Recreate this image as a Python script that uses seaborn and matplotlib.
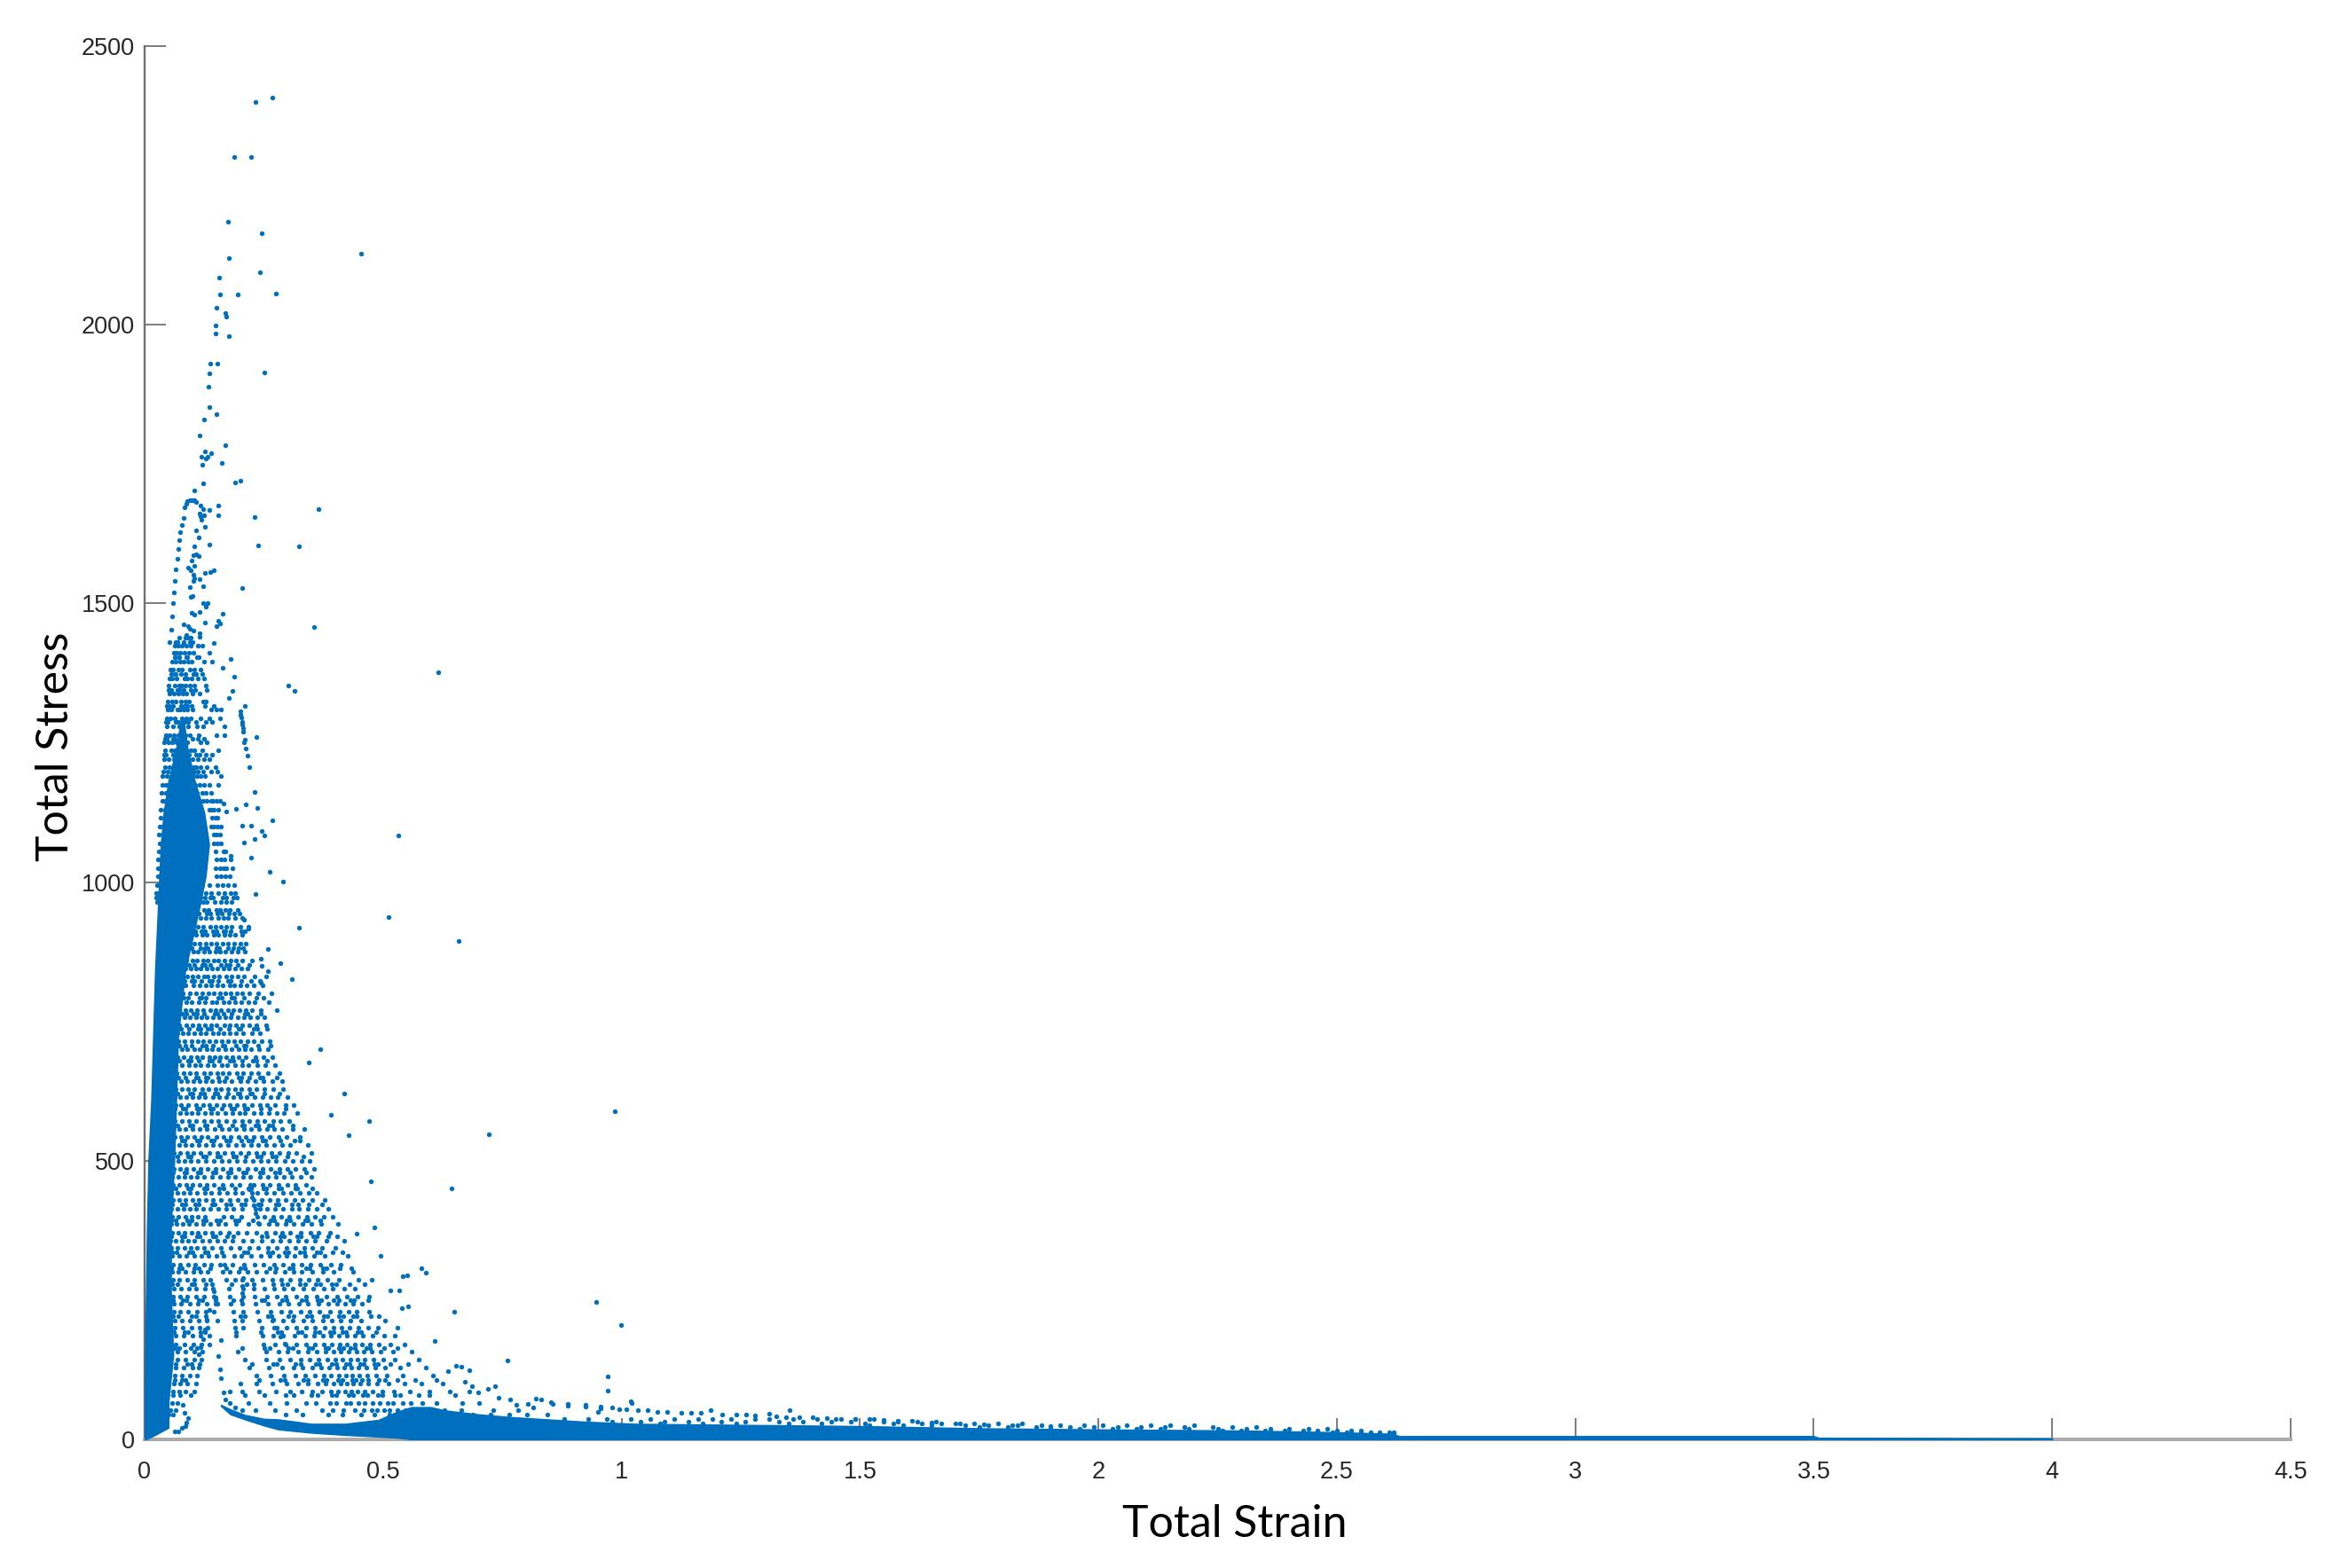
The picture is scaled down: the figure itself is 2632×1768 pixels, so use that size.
"""
Total stress against total strain scatter. Values are estimated from the picture:
isolated points one by one, the speckled cloud row by row, solid areas as outlines.
"""

import itertools

import matplotlib
matplotlib.use("Agg")
import matplotlib.pyplot as plt
import pandas as pd
import seaborn as sns

# ─── Data ────────────────────────────────────────────────────────────────────

x_ticks = [0, 0.5, 1, 1.5, 2, 2.5, 3, 3.5, 4, 4.5]
x_tick_labels = ["0", "0.5", "1", "1.5", "2", "2.5", "3", "3.5", "4", "4.5"]
y_ticks = [0, 500, 1000, 1500, 2000, 2500]

# isolated points above the cloud
peak_points = [
    (.267, 2407), (.232, 2399), (.187, 2301), (.223, 2301), (.174, 2185), (.246, 2164), (.453, 2128),
    (.177, 2120), (.241, 2094), (.157, 2084), (.158, 2055), (.195, 2055), (.275, 2056), (.150, 2030),
    (.169, 2021), (.172, 2014), (.148, 1999), (.149, 1985), (.176, 1979), (.138, 1931), (.152, 1930),
    (.136, 1913), (.251, 1915), (.134, 1889), (.135, 1852), (.151, 1840), (.125, 1830), (.116, 1801),
    (.170, 1784), (.127, 1772), (.119, 1763), (.140, 1769), (.133, 1763), (.129, 1760), (.121, 1749),
    (.161, 1752), (.122, 1716), (.189, 1717), (.201, 1720), (.104, 1702),
    # arc round the top of the core
    (.099, 1686), (.095, 1686), (.090, 1683), (.087, 1679), (.084, 1673), (.081, 1653), (.078, 1640),
    (.074, 1628), (.073, 1614), (.070, 1597), (.068, 1580), (.065, 1561), (.063, 1541), (.062, 1520),
    (.060, 1500), (.057, 1477), (.056, 1453), (.053, 1430), (.107, 1682), (.105, 1685), (.102, 1686),
    # inside and right of the arc
    (.118, 1676), (.123, 1670), (.136, 1667), (.154, 1676), (.154, 1658), (.117, 1656), (.124, 1658),
    (.115, 1662), (.119, 1650), (.231, 1655), (.364, 1670), (.127, 1637), (.107, 1631), (.114, 1619),
    (.105, 1603), (.135, 1606), (.239, 1604), (.324, 1603), (.103, 1586), (.113, 1585), (.108, 1588),
    (.099, 1577), (.092, 1565), (.105, 1568), (.096, 1560), (.146, 1560), (.138, 1556), (.126, 1554),
    (.102, 1551), (.103, 1540), (.105, 1545), (.115, 1544), (.095, 1530), (.123, 1531), (.204, 1528),
    (.096, 1511), (.100, 1513), (.123, 1500), (.133, 1501), (.128, 1495), (.099, 1483), (.105, 1480),
    (.115, 1485), (.164, 1481), (.155, 1469), (.150, 1460), (.158, 1464), (.126, 1465), (.355, 1457),
    (.081, 1462), (.092, 1460), (.094, 1455), (.103, 1452), (.115, 1446), (.115, 1440), (.088, 1444),
    (.146, 1429), (.615, 1377), (.181, 1401), (.164, 1385), (.187, 1369), (.301, 1353), (.315, 1343),
    (.185, 1343), (.176, 1330), (.211, 1316), (.200, 1307), (.201, 1300), (.202, 1295), (.205, 1287),
    (.204, 1282), (.207, 1276), (.206, 1270), (.210, 1256), (.209, 1250), (.212, 1240), (.216, 1227),
    (.220, 1206), (.234, 1261), (.231, 1162), (.213, 1139), (.236, 1133), (.192, 1132), (.172, 1127),
    (.166, 1141), (.267, 1111), (.205, 1101), (.223, 1101), (.246, 1092), (.251, 1084), (.532, 1083),
    (.231, 1077), (.208, 1071), (.223, 1044), (.181, 1047), (.262, 1019), (.290, 1001), (.233, 978),
    (.512, 938), (.324, 918), (.218, 917), (.208, 933), (.659, 895), (.258, 880), (.285, 855),
    (.243, 862), (.245, 849), (.259, 841), (.308, 826), (.244, 819),
]

# isolated points to the right of the cloud
outer_points = [
    (.644, 451), (.722, 548), (.986, 589), (.946, 247), (.999, 205), (.971, 113), (.971, 87), (.650, 229),
    (.419, 621), (.369, 700), (.344, 677), (.390, 582), (.471, 571), (.428, 546), (.474, 463), (.482, 380),
    (.445, 369), (.494, 329), (.581, 307), (.590, 299), (.608, 177), (.542, 293), (.550, 294), (.515, 268),
    (.533, 267), (.540, 236), (.553, 238), (.653, 132), (.664, 131), (.680, 124), (.636, 122), (.734, 95),
    (.767, 72), (.831, 72), (.803, 64), (.856, 64), (.888, 61), (.925, 59), (.957, 55), (1.021, 65),
    (.760, 141), (.720, 90), (.700, 84), (.742, 75), (.780, 62), (.815, 58), (.687, 95), (.671, 103),
    (.820, 73), (.852, 67), (.888, 64), (.924, 62), (.956, 59), (.950, 49), (.981, 57), (1.019, 68),
    (.995, 54), (1.010, 54), (1.035, 53), (1.055, 52), (1.075, 50), (1.095, 49), (1.125, 48), (1.145, 47),
    (1.167, 47), (1.187, 53), (1.211, 45), (1.240, 44), (1.262, 44), (1.280, 43), (1.309, 46), (1.325, 42),
    (1.353, 53), (1.345, 40), (1.372, 39), (1.400, 39), (1.430, 38), (1.460, 37), (1.490, 37), (1.520, 36),
    (1.550, 35), (1.580, 34), (1.610, 33), (1.650, 30), (1.700, 29), (1.760, 27), (1.820, 26), (1.900, 24),
    # thin streaks and the arc over the white gap
    (.220, 449), (.225, 435), (.229, 420), (.233, 405), (.238, 388), (.270, 215), (.278, 200), (.285, 185),
    (.293, 172), (.206, 290), (.205, 275), (.204, 262), (.203, 250), (.145, 266), (.149, 255), (.153, 243),
    (.135, 232), (.131, 215), (.127, 198), (.122, 180), (.117, 165), (.113, 152), (.160, 179), (.155, 150),
    (.158, 125), (.160, 110), (.165, 85), (.170, 72), (.178, 65), (.190, 57), (.064, 15), (.070, 14),
    (.078, 20), (.085, 24), (.092, 38), (.088, 30), (.083, 48), (.080, 62),
]

# speckled cloud, one list of strains for each stress level
cloud_stress = [
    1438, 1424, 1411, 1396, 1381, 1365, 1352, 1338, 1324, 1309, 1294, 1280, 1264, 1250, 1236, 1221,
    1206, 1190, 1175, 1160, 1145, 1130, 1115, 1100, 1085, 1070, 1055, 1040, 1025, 1010, 995, 980,
    965, 950, 935, 920, 905, 890, 875, 860, 845, 830, 815, 800, 785, 770, 757, 743, 729, 714, 700,
    686, 671, 657, 643, 629, 614, 600, 586, 571, 557, 543, 529, 514, 500, 486, 471, 457, 443, 429,
    414, 400, 386, 371, 357, 343, 329, 314, 300, 286, 271, 257, 243, 229, 214, 200, 186, 171, 157,
    143, 129, 114, 100, 86,
]
cloud_strain = [
    [.072, .085, .091, .097],
    [.063, .071, .078, .088, .096, .111, .121],
    [.061, .067, .075, .084, .093, .103, .135],
    [.057, .066, .074, .082, .091, .099, .125, .141],
    [.054, .060, .071, .079, .095, .105, .117],
    [.052, .058, .067, .083, .090, .099, .112, .124],
    [.050, .063, .072, .079, .086, .094, .104, .128],
    [.053, .061, .070, .080, .088, .100, .116],
    [.049, .057, .065, .077, .085, .093, .122, .128],
    [.048, .056, .068, .074, .082, .090, .101, .140, .150, .160],
    [.046, .054, .063, .079, .087, .096, .118, .135, .158],
    [.047, .059, .072, .080, .091, .110, .123, .168],
    [.044, .052, .061, .070, .078, .086, .094, .113, .150, .168],
    [.041, .050, .058, .067, .074, .082, .090, .118, .130],
    [.043, .056, .063, .070, .080, .087, .096, .105, .120, .155],
    [.040, .050, .062, .083, .091, .100, .112, .125, .135],
    [.042, .053, .095, .103, .108, .118, .130, .148],
    [.038, .046, .102, .110, .118, .127, .160],
    [.037, .045, .106, .115, .124, .135, .155],
    [.036, .044, .110, .120, .128, .140],
    [.038, .043, .115, .122, .130, .140, .143, .150, .158],
    [.034, .042, .135, .140, .146, .155],
    [.033, .040, .142, .148, .153],
    [.032, .038, .140, .145, .152, .160],
    [.030, .037, .146, .150, .158],
    [.031, .036, .145, .153, .160],
    [.029, .035, .148, .165, .170],
    [.028, .034, .150, .160, .168, .180],
    [.027, .033, .148, .158, .165, .172, .185],
    [.028, .032, .150, .160, .170, .178],
    [.026, .031, .120, .135, .152, .163, .175, .187],
    [.025, .030, .118, .128, .140, .155, .168, .180, .190],
    [.026, .115, .122, .130, .147, .160, .172, .182],
    [.110, .125, .134, .150, .158, .170, .178, .195],
    [.105, .118, .128, .140, .155, .165, .175, .190, .205],
    [.100, .112, .122, .137, .148, .160, .172, .183, .200, .218],
    [.098, .108, .120, .130, .145, .155, .168, .178, .190, .205],
    [.095, .105, .115, .128, .140, .150, .163, .175, .188, .200, .212],
    [.090, .102, .112, .125, .135, .148, .158, .170, .182, .195, .210],
    [.088, .100, .110, .122, .132, .145, .155, .168, .180, .192, .205, .225],
    [.085, .096, .107, .118, .130, .142, .153, .165, .177, .190, .202, .215],
    [.078, .090, .100, .112, .124, .133, .146, .157, .171, .183, .196, .208, .230, .255],
    [.075, .086, .103, .116, .128, .139, .152, .163, .178, .187, .200, .214, .228, .247],
    [.080, .094, .108, .120, .134, .145, .158, .170, .180, .193, .205, .220, .238, .266],
    [.074, .088, .099, .113, .126, .141, .150, .165, .176, .190, .203, .217, .231, .260],
    [.072, .085, .097, .110, .122, .137, .148, .160, .174, .186, .199, .212, .226, .243, .278],
    [.070, .083, .095, .107, .119, .131, .144, .156, .170, .181, .195, .208, .222, .237, .252],
    [.073, .087, .101, .114, .127, .140, .151, .167, .178, .192, .204, .219, .234, .255],
    [.068, .080, .092, .105, .117, .129, .143, .155, .166, .179, .191, .206, .225, .241],
    [.071, .084, .098, .111, .123, .136, .149, .161, .175, .188, .201, .215, .229, .246, .262],
    [.066, .079, .090, .104, .116, .130, .142, .154, .169, .182, .197, .210, .224, .240, .259],
    [.069, .082, .096, .109, .121, .135, .147, .159, .172, .185, .198, .213, .232, .250, .268],
    [.065, .078, .093, .106, .118, .132, .146, .162, .173, .189, .205, .218, .236, .253, .274],
    [.067, .081, .094, .108, .125, .138, .152, .164, .177, .194, .207, .223, .239, .258, .283],
    [.064, .076, .089, .102, .115, .128, .141, .156, .168, .183, .200, .216, .233, .249, .267, .288],
    [.066, .079, .091, .105, .120, .134, .148, .160, .174, .190, .203, .219, .235, .252, .270, .290],
    [.063, .075, .088, .100, .113, .127, .143, .157, .171, .186, .201, .214, .230, .248, .265, .279, .300],
    [.065, .077, .092, .107, .122, .136, .150, .166, .179, .193, .209, .226, .242, .257, .273, .295, .312],
    [.061, .074, .087, .099, .112, .126, .140, .153, .169, .184, .199, .211, .228, .244, .260, .277, .292, .320],
    [.064, .078, .093, .108, .124, .139, .155, .172, .187, .204, .220, .236, .251, .269, .285, .303],
    [.060, .073, .086, .101, .116, .131, .147, .162, .176, .192, .208, .224, .240, .256, .272, .288, .310, .335],
    [.063, .076, .090, .105, .119, .133, .150, .165, .181, .197, .213, .229, .246, .263, .280, .297, .325],
    [.059, .072, .085, .098, .114, .128, .144, .159, .175, .191, .206, .223, .238, .254, .271, .289, .305, .342],
    [.062, .075, .089, .103, .118, .135, .152, .167, .184, .200, .217, .234, .250, .266, .283, .301, .318, .350],
    [.058, .071, .084, .097, .112, .129, .145, .161, .177, .194, .211, .227, .243, .259, .276, .293, .311, .330, .346],
    [.061, .074, .088, .102, .117, .132, .149, .164, .180, .198, .215, .232, .248, .264, .282, .299, .316, .335, .355],
    [.057, .070, .083, .096, .110, .125, .141, .158, .174, .190, .207, .222, .241, .258, .275, .292, .309, .327, .349],
    [.060, .073, .087, .101, .115, .130, .146, .163, .182, .199, .221, .229, .247, .263, .281, .300, .317, .338],
    [.056, .069, .082, .095, .109, .126, .140, .157, .173, .189, .205, .225, .237, .255, .272, .290, .307, .325, .345, .360],
    [.059, .072, .086, .100, .113, .128, .143, .160, .178, .196, .212, .228, .245, .262, .279, .296, .314, .332, .352, .378],
    [.056, .068, .081, .094, .108, .123, .138, .155, .171, .186, .204, .233, .242, .257, .274, .291, .308, .324, .342, .361, .385],
    [.058, .071, .085, .099, .112, .127, .165, .183, .202, .237, .252, .270, .287, .304, .322, .340, .358, .376, .395],
    [.055, .067, .080, .093, .107, .122, .137, .154, .170, .192, .218, .240, .261, .278, .295, .313, .331, .349, .370, .405],
    [.057, .070, .084, .098, .111, .126, .142, .158, .176, .195, .214, .234, .255, .273, .289, .306, .328, .347, .365, .388],
    [.054, .066, .079, .092, .105, .120, .136, .153, .168, .185, .206, .226, .246, .268, .285, .303, .321, .339, .357, .382, .418],
    [.056, .069, .083, .097, .110, .125, .141, .160, .180, .199, .219, .238, .259, .277, .298, .316, .334, .352, .372, .400],
    [.058, .072, .088, .104, .119, .134, .151, .165, .188, .203, .224, .243, .262, .280, .297, .315, .336, .355, .377, .426],
    [.060, .075, .091, .106, .124, .139, .159, .167, .184, .208, .231, .250, .271, .290, .310, .329, .348, .368, .390, .412],
    [.058, .070, .086, .102, .118, .133, .163, .178, .197, .216, .235, .254, .274, .294, .312, .330, .351, .373, .396, .437],
    [.059, .073, .089, .105, .122, .138, .172, .190, .205, .225, .247, .268, .286, .305, .326, .344, .363, .384, .408, .448, .476],
    [.061, .076, .093, .108, .126, .143, .176, .207, .228, .251, .272, .292, .311, .333, .354, .375, .394, .418, .440],
    [.060, .074, .090, .107, .125, .145, .178, .206, .231, .256, .277, .296, .319, .339, .360, .381, .403, .425, .447, .470],
    [.062, .077, .094, .112, .130, .148, .181, .205, .233, .259, .283, .301, .323, .342, .365, .386, .404, .421, .438, .455],
    [.061, .075, .092, .110, .128, .145, .186, .207, .236, .264, .287, .306, .327, .346, .367, .389, .410, .428, .445, .470],
    [.063, .078, .095, .113, .130, .152, .188, .204, .240, .268, .290, .310, .333, .352, .373, .392, .412, .432, .453, .505],
    [.064, .080, .098, .116, .133, .190, .206, .245, .272, .297, .318, .339, .358, .377, .396, .413, .430, .448, .469, .490, .530],
    [.065, .082, .100, .117, .135, .192, .248, .270, .291, .314, .336, .355, .374, .391, .407, .424, .440, .458, .478, .503, .525],
    [.066, .084, .103, .119, .136, .250, .273, .296, .318, .338, .357, .376, .392, .409, .425, .441, .456, .473, .492, .515, .545],
    [.068, .086, .105, .121, .195, .254, .280, .300, .322, .343, .361, .380, .397, .412, .428, .444, .459, .476, .495, .520, .560],
    [.068, .085, .104, .119, .210, .255, .282, .306, .327, .346, .364, .383, .400, .415, .431, .446, .462, .480, .500, .525, .575],
    [.066, .082, .100, .113, .220, .260, .288, .312, .332, .352, .370, .387, .404, .419, .434, .449, .465, .483, .504, .535, .590],
    [.064, .078, .095, .110, .235, .264, .292, .316, .337, .357, .375, .391, .407, .422, .436, .451, .467, .486, .508, .541, .605],
    [.062, .075, .090, .108, .200, .235, .268, .298, .322, .343, .363, .380, .396, .411, .425, .438, .452, .468, .488, .512, .545, .580, .625],
    [.060, .072, .086, .104, .178, .205, .240, .275, .305, .330, .352, .372, .390, .405, .420, .434, .447, .461, .478, .498, .522, .556, .597, .640, .680],
]

# second pass over the cloud, rows in between with the clumps and gaps of the picture
clump_stress = [
    1431, 1403, 1373, 1345, 1316, 1287, 1257, 1228, 1198, 973, 943, 912, 882, 852, 823, 793, 764, 736,
    707, 679, 650, 621, 593, 564, 536, 507, 479, 450, 421, 393, 364, 336, 307, 279, 250, 221, 193, 164,
    136, 107, 79, 65, 52, 44,
]
clump_strain = [
    [.066, .069, .082, .094, .101],
    [.064, .070, .073, .087, .090, .109, .113],
    [.056, .063, .065, .077, .086, .102, .108, .120],
    [.051, .055, .069, .075, .082, .097, .106, .131],
    [.047, .052, .060, .076, .083, .089, .098, .126, .146],
    [.045, .049, .066, .071, .084, .092, .108, .128, .142],
    [.043, .047, .060, .064, .077, .084, .101, .111, .124],
    [.041, .045, .059, .066, .085, .093, .107, .116, .128, .142],
    [.039, .048, .098, .104, .112, .123, .139, .153],
    [.024, .028, .111, .117, .126, .138, .143, .164, .171, .186, .194],
    [.108, .113, .131, .137, .152, .161, .176, .187, .199],
    [.101, .106, .119, .127, .143, .151, .166, .169, .181, .203, .211],
    [.093, .099, .117, .126, .133, .151, .156, .174, .186, .197, .207],
    [.086, .093, .104, .121, .127, .138, .160, .172, .179, .196, .219],
    [.077, .083, .098, .105, .119, .136, .142, .155, .174, .181, .203, .224, .241],
    [.073, .082, .091, .115, .119, .129, .155, .161, .182, .188, .209, .235, .249],
    [.069, .079, .088, .103, .109, .125, .147, .153, .166, .183, .211, .216, .244],
    [.074, .077, .093, .112, .118, .133, .139, .158, .176, .197, .201, .228, .236, .257],
    [.067, .072, .086, .099, .121, .129, .144, .163, .167, .191, .209, .213, .238, .264],
    [.064, .073, .092, .097, .114, .136, .141, .157, .178, .186, .205, .227, .234, .256],
    [.067, .070, .085, .107, .112, .128, .133, .154, .171, .197, .202, .219, .241, .247, .277],
    [.062, .069, .094, .100, .118, .124, .147, .152, .174, .196, .199, .221, .226, .251, .282],
    [.063, .080, .086, .109, .115, .138, .143, .161, .183, .188, .211, .216, .244, .262, .296],
    [.061, .068, .095, .101, .127, .131, .156, .159, .184, .205, .209, .232, .238, .261, .267, .310],
    [.059, .079, .083, .110, .115, .139, .146, .172, .178, .202, .218, .225, .247, .253, .284, .314, .326],
    [.058, .068, .092, .096, .122, .128, .153, .158, .186, .191, .213, .236, .244, .268, .276, .299, .333],
    [.060, .083, .087, .111, .117, .143, .148, .175, .180, .206, .212, .241, .247, .274, .283, .305, .339],
    [.057, .066, .091, .096, .124, .130, .157, .166, .189, .218, .224, .249, .254, .280, .287, .316, .320, .352],
    [.058, .079, .085, .106, .113, .141, .147, .172, .181, .203, .211, .238, .243, .276, .281, .309, .321, .344, .372],
    [.056, .065, .090, .098, .122, .129, .150, .159, .190, .197, .227, .265, .272, .298, .305, .336, .342, .368],
    [.055, .078, .084, .109, .115, .143, .149, .173, .186, .246, .256, .284, .292, .320, .327, .353, .361, .386, .404],
    [.057, .067, .093, .101, .126, .133, .162, .209, .216, .259, .267, .294, .301, .326, .335, .361, .368, .395, .415],
    [.056, .072, .079, .105, .113, .138, .171, .201, .211, .263, .276, .304, .311, .338, .346, .373, .381, .409, .433],
    [.058, .068, .098, .104, .129, .142, .182, .214, .228, .270, .288, .300, .325, .336, .359, .368, .392, .402, .430, .462],
    [.059, .080, .087, .114, .120, .149, .186, .245, .251, .288, .297, .330, .338, .362, .371, .396, .407, .431, .439, .468],
    [.060, .071, .098, .107, .129, .200, .211, .259, .266, .301, .312, .341, .349, .376, .384, .408, .416, .437, .444, .475, .492],
    [.062, .083, .091, .117, .127, .191, .243, .279, .287, .321, .329, .358, .366, .388, .397, .415, .423, .446, .453, .486],
    [.064, .073, .097, .110, .205, .251, .262, .302, .311, .344, .352, .379, .386, .408, .417, .432, .440, .465, .472, .502, .530],
    [.066, .090, .099, .116, .225, .270, .277, .317, .328, .359, .367, .392, .401, .423, .429, .452, .459, .481, .489, .515, .552],
    [.063, .078, .085, .240, .285, .294, .333, .342, .373, .382, .406, .414, .436, .442, .456, .468, .491, .505, .530, .568, .612],
    [.060, .074, .096, .210, .252, .296, .312, .350, .362, .393, .401, .428, .437, .458, .466, .489, .498, .524, .536, .574, .598, .652],
    [.057, .069, .218, .262, .298, .338, .359, .388, .401, .423, .431, .449, .462, .478, .493, .509, .521, .541, .558, .583, .612, .666, .702],
    [.054, .065, .205, .232, .274, .318, .372, .395, .417, .441, .459, .477, .488, .502, .514, .531, .547, .563, .582, .604, .628, .665, .731, .783],
    [.051, .060, .295, .332, .385, .414, .453, .482, .513, .529, .546, .567, .586, .612, .641, .688, .726, .764, .802, .845],
]

# jagged top of the long tail, one list of strains for each stress level
tail_stress = [36, 32, 28, 25, 22, 19, 16, 12]
tail_strain = [
    [.88, .93, .97, 1.02, 1.06, 1.11, 1.16, 1.19, 1.23, 1.28, 1.31, 1.36, 1.41, 1.45, 1.49, 1.53],
    [.98, 1.04, 1.09, 1.14, 1.21, 1.26, 1.33, 1.38, 1.44, 1.48, 1.55, 1.58, 1.62, 1.66],
    [1.08, 1.17, 1.24, 1.35, 1.42, 1.51, 1.57, 1.63, 1.67, 1.71, 1.74, 1.79, 1.84],
    [1.52, 1.59, 1.65, 1.72, 1.77, 1.83, 1.88, 1.92, 1.97, 2.01, 2.06, 2.11, 2.15, 2.20],
    [1.75, 1.81, 1.87, 1.94, 1.99, 2.04, 2.09, 2.14, 2.18, 2.24, 2.28, 2.33],
    [1.90, 1.96, 2.03, 2.08, 2.13, 2.19, 2.25, 2.31, 2.36, 2.40, 2.44, 2.48],
    [2.26, 2.30, 2.35, 2.39, 2.43, 2.46, 2.50, 2.53, 2.55],
    [2.49, 2.52, 2.55, 2.57, 2.59, 2.61, 2.62],
]

# solid core, left and right edge for each stress level
core_stress = [1290, 1239, 1182, 1125, 1068, 1011, 955, 898, 841, 722, 608, 500, 380, 266, 152, 67, 21, 8, 0]
core_left = [.076, .066, .050, .040, .034, .031, .028, .025, .022, .018, .014, .008, .005, .003, .001, 0, 0, 0, 0]
core_right = [.082, .090, .105, .125, .135, .128, .115, .100, .085, .070, .066, .062, .055, .055, .060, .050, .050, .022, .003]

# solid band along the strain axis
band_strain = [.16, .18, .21, .25, .28, .35, .42, .49, .53, .56, .60, .63, .70, .77, .92, 1.03, 1.5, 1.75,
               2.0, 2.3, 2.5, 2.62, 2.63, 3.5, 3.51, 4.0]
band_high = [62, 54, 44, 37, 36, 28, 28, 35, 50, 58, 58, 52, 45, 40, 32, 28, 24, 20, 18, 16, 13, 10, 6, 6, 3, 2]
band_low = [60, 45, 36, 25, 18, 12, 8, 5, 3, 0, 0, 0, 0, 0, 0, 0, 0, 0, 0, 0, 0, 0, 0, 0, 0, 0]

BLUE = "#006FBE"


def rows_to_points(levels, rows):
    return list(itertools.chain.from_iterable(
        [(x, y) for x in row] for y, row in zip(levels, rows, strict=True)
    ))


def main():
    points = (
        peak_points + outer_points
        + rows_to_points(cloud_stress, cloud_strain)
        + rows_to_points(clump_stress, clump_strain)
        + rows_to_points(tail_stress, tail_strain)
    )
    df = pd.DataFrame(points, columns=["strain", "stress"])

    sns.set_style("white")
    plt.rcParams["font.family"] = ["Liberation Sans", "DejaVu Sans"]

    fig = plt.figure(figsize=(26.32, 17.68), dpi=100)
    ax = fig.add_axes([163 / 2632, 145 / 1768, 2419 / 2632, 1571 / 1768])

    ax.fill_betweenx(core_stress, core_left, core_right, color=BLUE, linewidth=1, zorder=1.5)
    ax.fill_between(band_strain, band_low, band_high, color=BLUE, linewidth=1, zorder=1.5)
    sns.scatterplot(data=df, x="strain", y="stress", s=15, color=BLUE, linewidth=0, ax=ax, clip_on=False, zorder=2)

    ax.set_xlim(0, 4.5)
    ax.set_ylim(0, 2500)
    ax.set_xticks(x_ticks, x_tick_labels)
    ax.set_yticks(y_ticks)
    ax.set_axisbelow(True)
    ax.tick_params(axis="both", direction="in", length=17, width=1.2, color="#666666",
                   labelsize=19.5, labelcolor="#262626", left=True, bottom=True)
    ax.tick_params(axis="x", pad=17)
    ax.tick_params(axis="y", pad=8)

    sns.despine(ax=ax)
    ax.spines["left"].set_color("#707070")
    ax.spines["left"].set_linewidth(1.7)
    ax.spines["bottom"].set_color("#ababab")
    ax.spines["bottom"].set_linewidth(2.9)
    ax.spines["left"].set_zorder(1)
    ax.spines["bottom"].set_zorder(1)

    ax.set_xlabel("Total Strain", family="Lato", fontsize=36, color="black")
    ax.set_ylabel("Total Stress", family="Lato", fontsize=36, color="black")
    ax.xaxis.set_label_coords(0.508, -0.0467)
    ax.yaxis.set_label_coords(-0.0317, 0.497)

    fig.savefig("out.png", dpi=100)
    plt.close(fig)


if __name__ == "__main__":
    main()
